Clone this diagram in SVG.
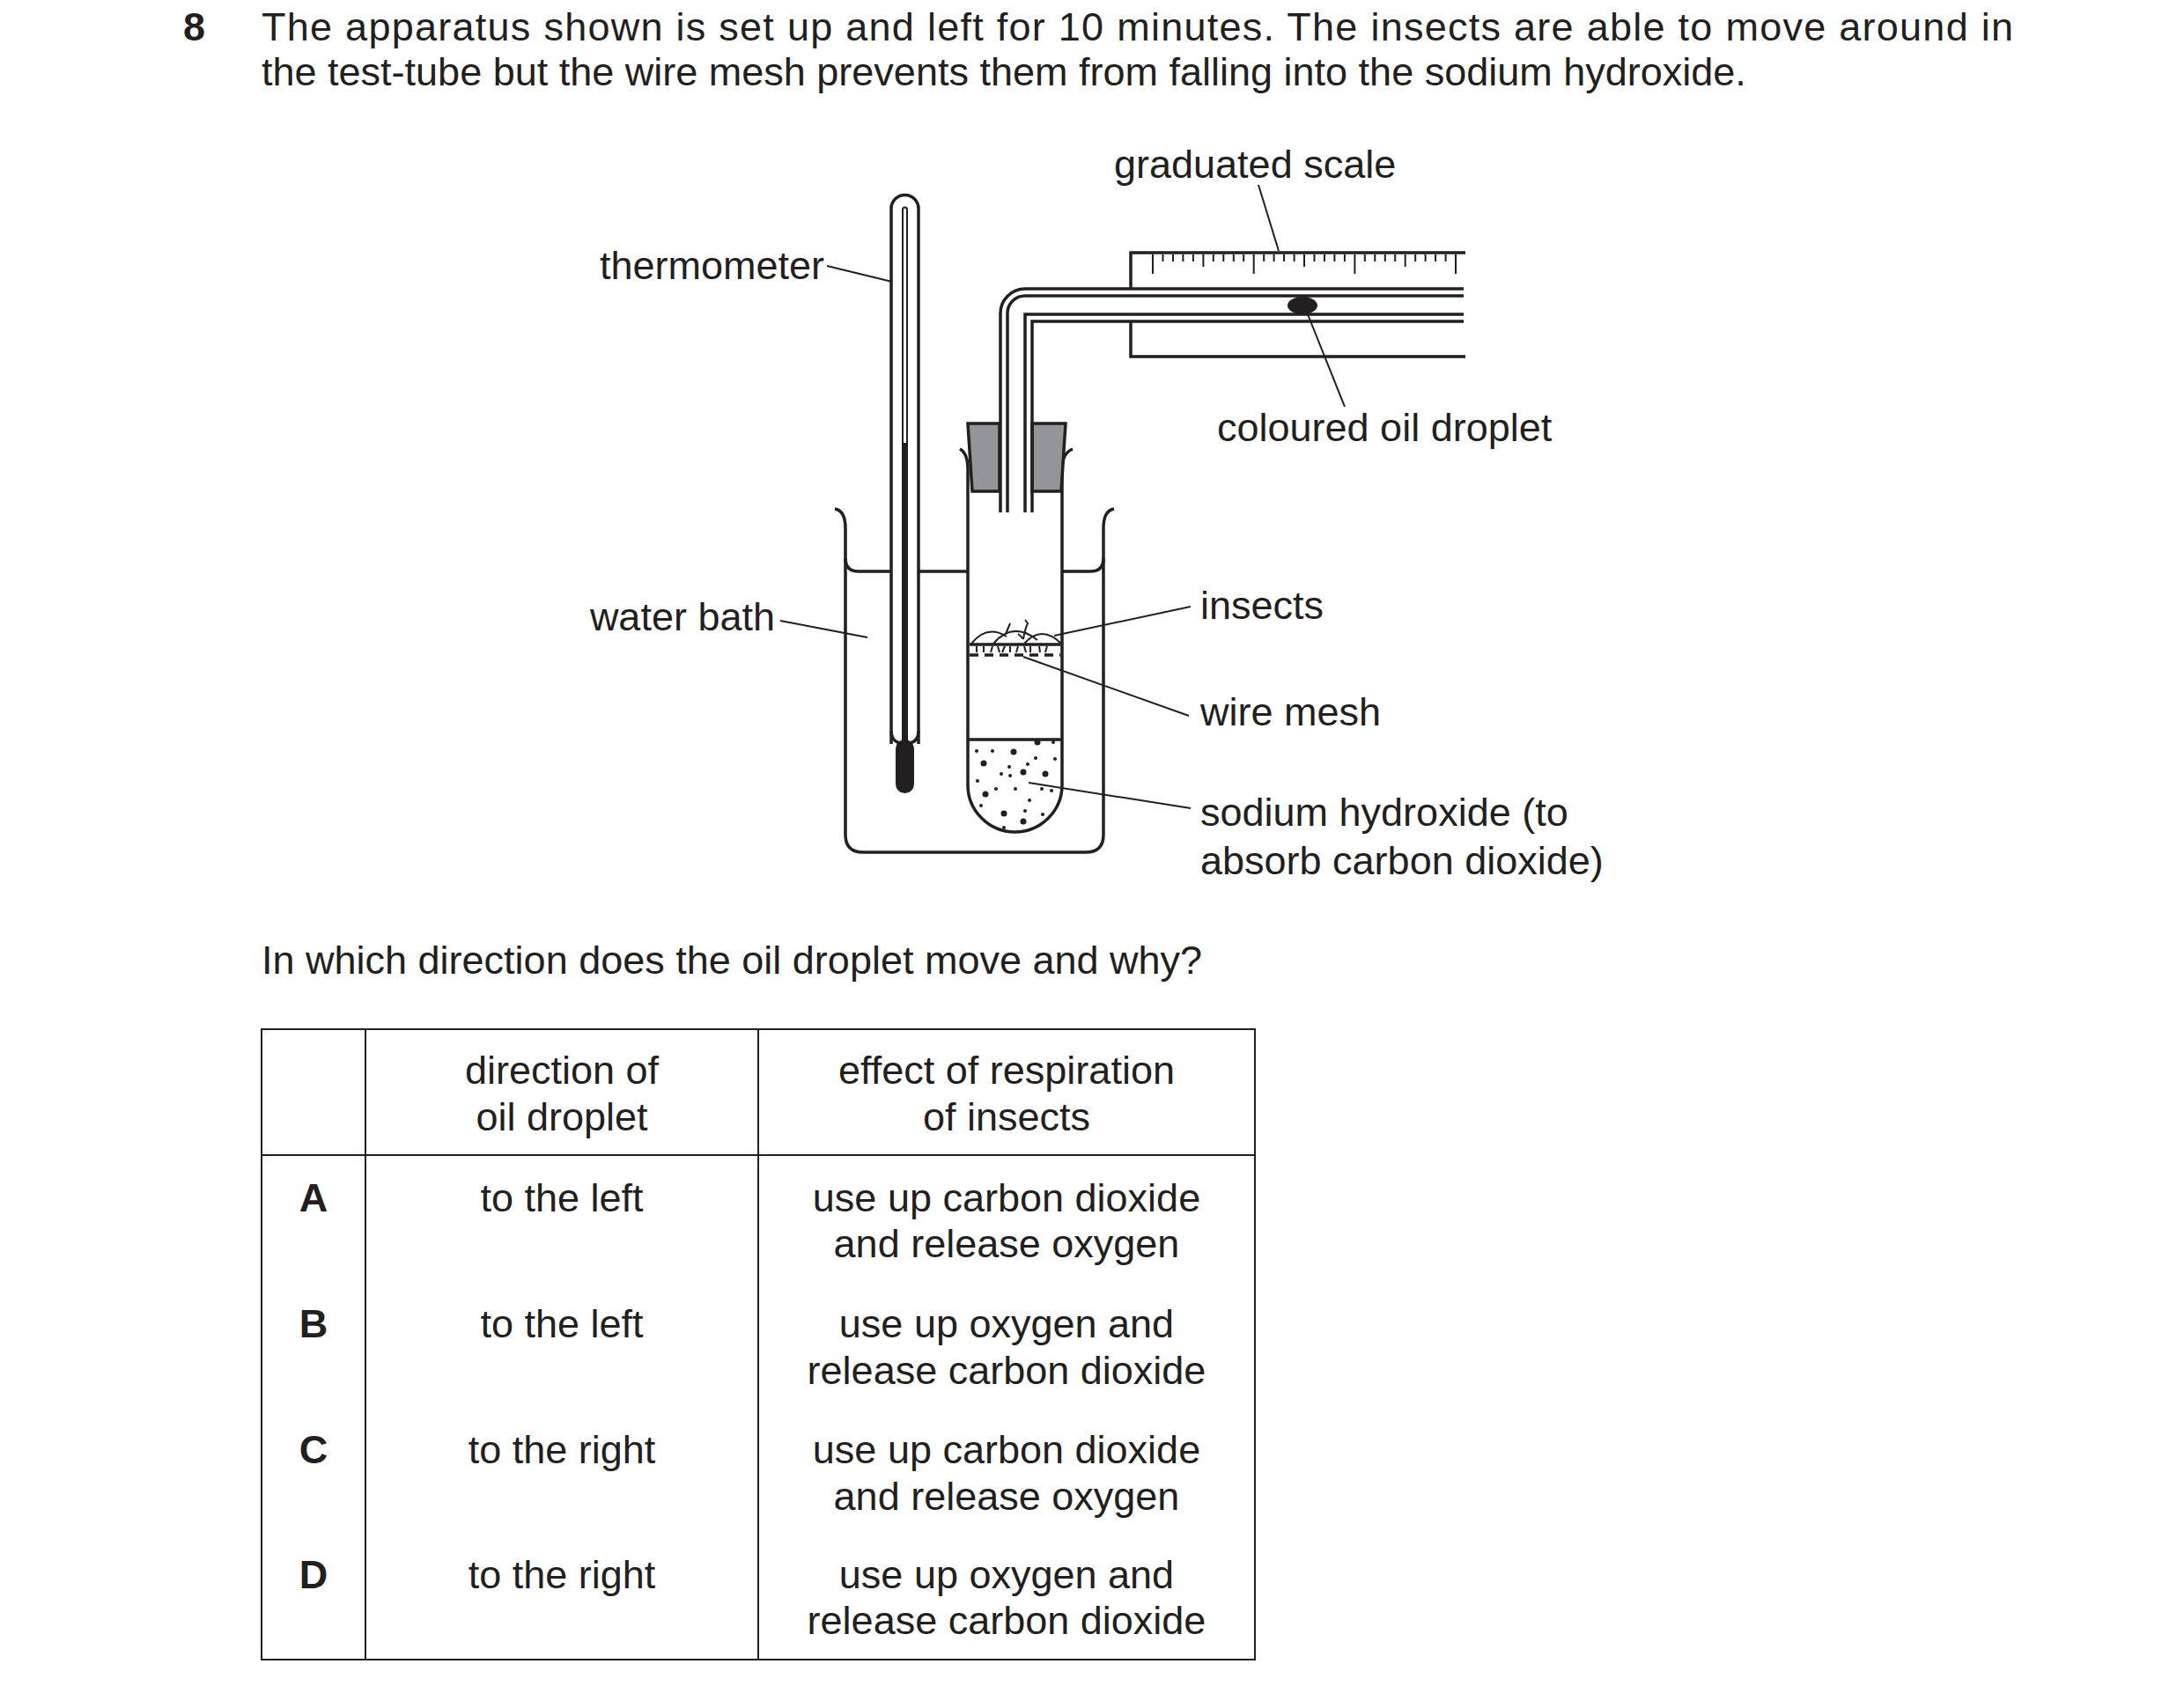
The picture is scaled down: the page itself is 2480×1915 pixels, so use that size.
<svg xmlns="http://www.w3.org/2000/svg" width="2480" height="1915" viewBox="0 0 2480 1915">
<style>
text{font-family:"Liberation Sans",Arial,sans-serif;font-size:45px;fill:#231f20}
.c{text-anchor:middle}
.b{font-weight:bold}
.s{fill:none;stroke:#231f20;stroke-width:3.5}
.g{fill:#939598;stroke:#231f20;stroke-width:3.5}
.t{fill:none;stroke:#231f20;stroke-width:2}
.l{fill:none;stroke:#231f20;stroke-width:2}
</style>
<rect width="2480" height="1915" fill="#fff"/>
<g id="question">
<text x="208" y="46" class="b">8</text>
<text x="297" y="46" textLength="1989" lengthAdjust="spacing">The apparatus shown is set up and left for 10 minutes. The insects are able to move around in</text>
<text x="297" y="97">the test-tube but the wire mesh prevents them from falling into the sodium hydroxide.</text>
</g>
<g id="beaker">
<path class="s" d="M948,578 q12,2 12,22 V948 q0,20 20,20 H1233 q20,0 20,-20 V600 q0,-20 12,-22"/>
<path class="s" d="M960,634 q0,15 15,15 H1012 M1043,649 H1099 M1206,649 H1238 q15,0 15,-15"/>
</g>
<g id="thermometer">
<path class="s" fill="#fff" d="M1012,845 V237 a15.5,15.5 0 0 1 31,0 V845"/>
<path class="t" d="M1025,836 V238 a2.5,2.5 0 0 1 5,0 V836"/>
<rect x="1024" y="503" width="7" height="340" fill="#231f20"/>
<path class="s" d="M1012,830 q0,12 10,14 M1043,830 q0,12 -10,14"/>
<rect x="1017" y="840" width="21" height="61" rx="10.5" fill="#231f20"/>
</g>
<g id="testtube">
<path class="s" d="M1090,510 q9,5 9,23 V891.5 a53.5,53.5 0 0 0 107,0 V533 q0,-18 12,-23"/>
<line class="s" x1="1099" y1="840" x2="1206" y2="840"/>
<g fill="#231f20">
<circle cx="1109" cy="853" r="2"/><circle cx="1127" cy="853" r="2"/><circle cx="1151" cy="854" r="3.5"/><circle cx="1178" cy="843" r="3.5"/><circle cx="1196" cy="843" r="2"/>
<circle cx="1117" cy="867" r="3.5"/><circle cx="1146" cy="871" r="2"/><circle cx="1167" cy="868" r="2"/><circle cx="1176" cy="861" r="2"/><circle cx="1198" cy="862" r="2"/>
<circle cx="1162" cy="877" r="3.5"/><circle cx="1187" cy="879" r="3.5"/><circle cx="1110" cy="887" r="2"/><circle cx="1137" cy="879" r="2"/><circle cx="1147" cy="881" r="2"/>
<circle cx="1119" cy="902" r="3.5"/><circle cx="1131" cy="896" r="2"/><circle cx="1153" cy="896" r="2"/><circle cx="1183" cy="896" r="2"/><circle cx="1194" cy="898" r="2"/>
<circle cx="1169" cy="909" r="2"/><circle cx="1114" cy="915" r="2"/><circle cx="1164" cy="921" r="2"/><circle cx="1140" cy="924" r="3.5"/><circle cx="1184" cy="925" r="2"/>
<circle cx="1162" cy="933" r="3.5"/><circle cx="1140" cy="940" r="2"/>
</g>
<line class="s" x1="1101" y1="732" x2="1204" y2="732"/>
<line x1="1101" y1="744" x2="1204" y2="744" stroke="#231f20" stroke-width="3.5" stroke-dasharray="10,7"/>
<path class="t" d="M1109,734 v7 M1117,734 v7 M1127,734 l-2,7 M1133,734 l2,7 M1141,734 l-3,7 M1147,734 v7 M1156,734 l-2,7 M1163,734 l2,7 M1170,734 v7 M1180,734 l1,7 M1189,734 l-2,7"/>
<path class="t" d="M1103,731 q18,-22 40,-8 M1128,731 q22,-26 50,-4 M1163,731 q20,-22 42,0 M1142,720 l5,-12 M1162,726 q2,-12 5,-18 l-3,-4 M1162,726 q-3,-4 -6,-6"/>
</g>
<g id="stopper">
<polygon class="g" points="1099,481 1135,481 1135,558 1104,558"/>
<polygon class="g" points="1172,481 1210,481 1205,558 1172,558"/>
</g>
<g id="scale">
<path class="s" d="M1664,287 H1284 V328 M1284,365 V405 H1664"/>
<path class="t" id="ticks" d="M1309,289 v22 M1320.5,289 v8 M1332,289 v8 M1343.4,289 v8 M1354.9,289 v8 M1366.4,289 v14 M1377.8,289 v8 M1389.3,289 v8 M1400.8,289 v8 M1412.2,289 v8 M1423.7,289 v22 M1435.2,289 v8 M1446.6,289 v8 M1458.1,289 v8 M1469.6,289 v8 M1481,289 v14 M1492.5,289 v8 M1504,289 v8 M1515.4,289 v8 M1526.9,289 v8 M1538.4,289 v22 M1549.8,289 v8 M1561.3,289 v8 M1572.8,289 v8 M1584.2,289 v8 M1595.7,289 v14 M1607.2,289 v8 M1618.6,289 v8 M1630.1,289 v8 M1641.6,289 v8 M1653,289 v22"/>
</g>
<g id="tube">
<path class="s" d="M1136,582 V356 a28,28 0 0 1 28,-28 H1662 M1144,582 V356 a20,20 0 0 1 20,-20 H1662 M1164,582 V357 H1662 M1172,582 V365 H1662"/>
<ellipse cx="1479" cy="347" rx="17" ry="10" fill="#231f20"/>
</g>
<g id="connectors">
<line class="l" x1="939" y1="302" x2="1013" y2="320"/>
<line class="l" x1="1429" y1="210" x2="1452" y2="285"/>
<line class="l" x1="1485" y1="357" x2="1527" y2="462"/>
<line class="l" x1="886" y1="705" x2="985" y2="724"/>
<line class="l" x1="1197" y1="722" x2="1352" y2="689"/>
<line class="l" x1="1162" y1="746" x2="1350" y2="813"/>
<line class="l" x1="1168" y1="889" x2="1352" y2="918"/>
</g>
<g id="labels">
<text x="1265" y="202">graduated scale</text>
<text x="936" y="317" text-anchor="end">thermometer</text>
<text x="1382" y="501">coloured oil droplet</text>
<text x="880" y="716" text-anchor="end">water bath</text>
<text x="1363" y="703">insects</text>
<text x="1363" y="824">wire mesh</text>
<text x="1363" y="938">sodium hydroxide (to</text>
<text x="1363" y="993">absorb carbon dioxide)</text>
</g>
<text x="297" y="1106">In which direction does the oil droplet move and why?</text>
<g id="table">
<rect x="297" y="1169" width="1128" height="716" class="t"/>
<path class="t" d="M415,1169 V1885 M861,1169 V1885 M297,1312 H1425"/>
<text x="638" y="1231" class="c">direction of</text>
<text x="638" y="1284" class="c">oil droplet</text>
<text x="1143" y="1231" class="c">effect of respiration</text>
<text x="1143" y="1284" class="c">of insects</text>
<text x="356" y="1376" class="c b">A</text>
<text x="638" y="1376" class="c">to the left</text>
<text x="1143" y="1376" class="c">use up carbon dioxide</text>
<text x="1143" y="1428" class="c">and release oxygen</text>
<text x="356" y="1519" class="c b">B</text>
<text x="638" y="1519" class="c">to the left</text>
<text x="1143" y="1519" class="c">use up oxygen and</text>
<text x="1143" y="1572" class="c">release carbon dioxide</text>
<text x="356" y="1662" class="c b">C</text>
<text x="638" y="1662" class="c">to the right</text>
<text x="1143" y="1662" class="c">use up carbon dioxide</text>
<text x="1143" y="1715" class="c">and release oxygen</text>
<text x="356" y="1804" class="c b">D</text>
<text x="638" y="1804" class="c">to the right</text>
<text x="1143" y="1804" class="c">use up oxygen and</text>
<text x="1143" y="1856" class="c">release carbon dioxide</text>
</g>
</svg>
